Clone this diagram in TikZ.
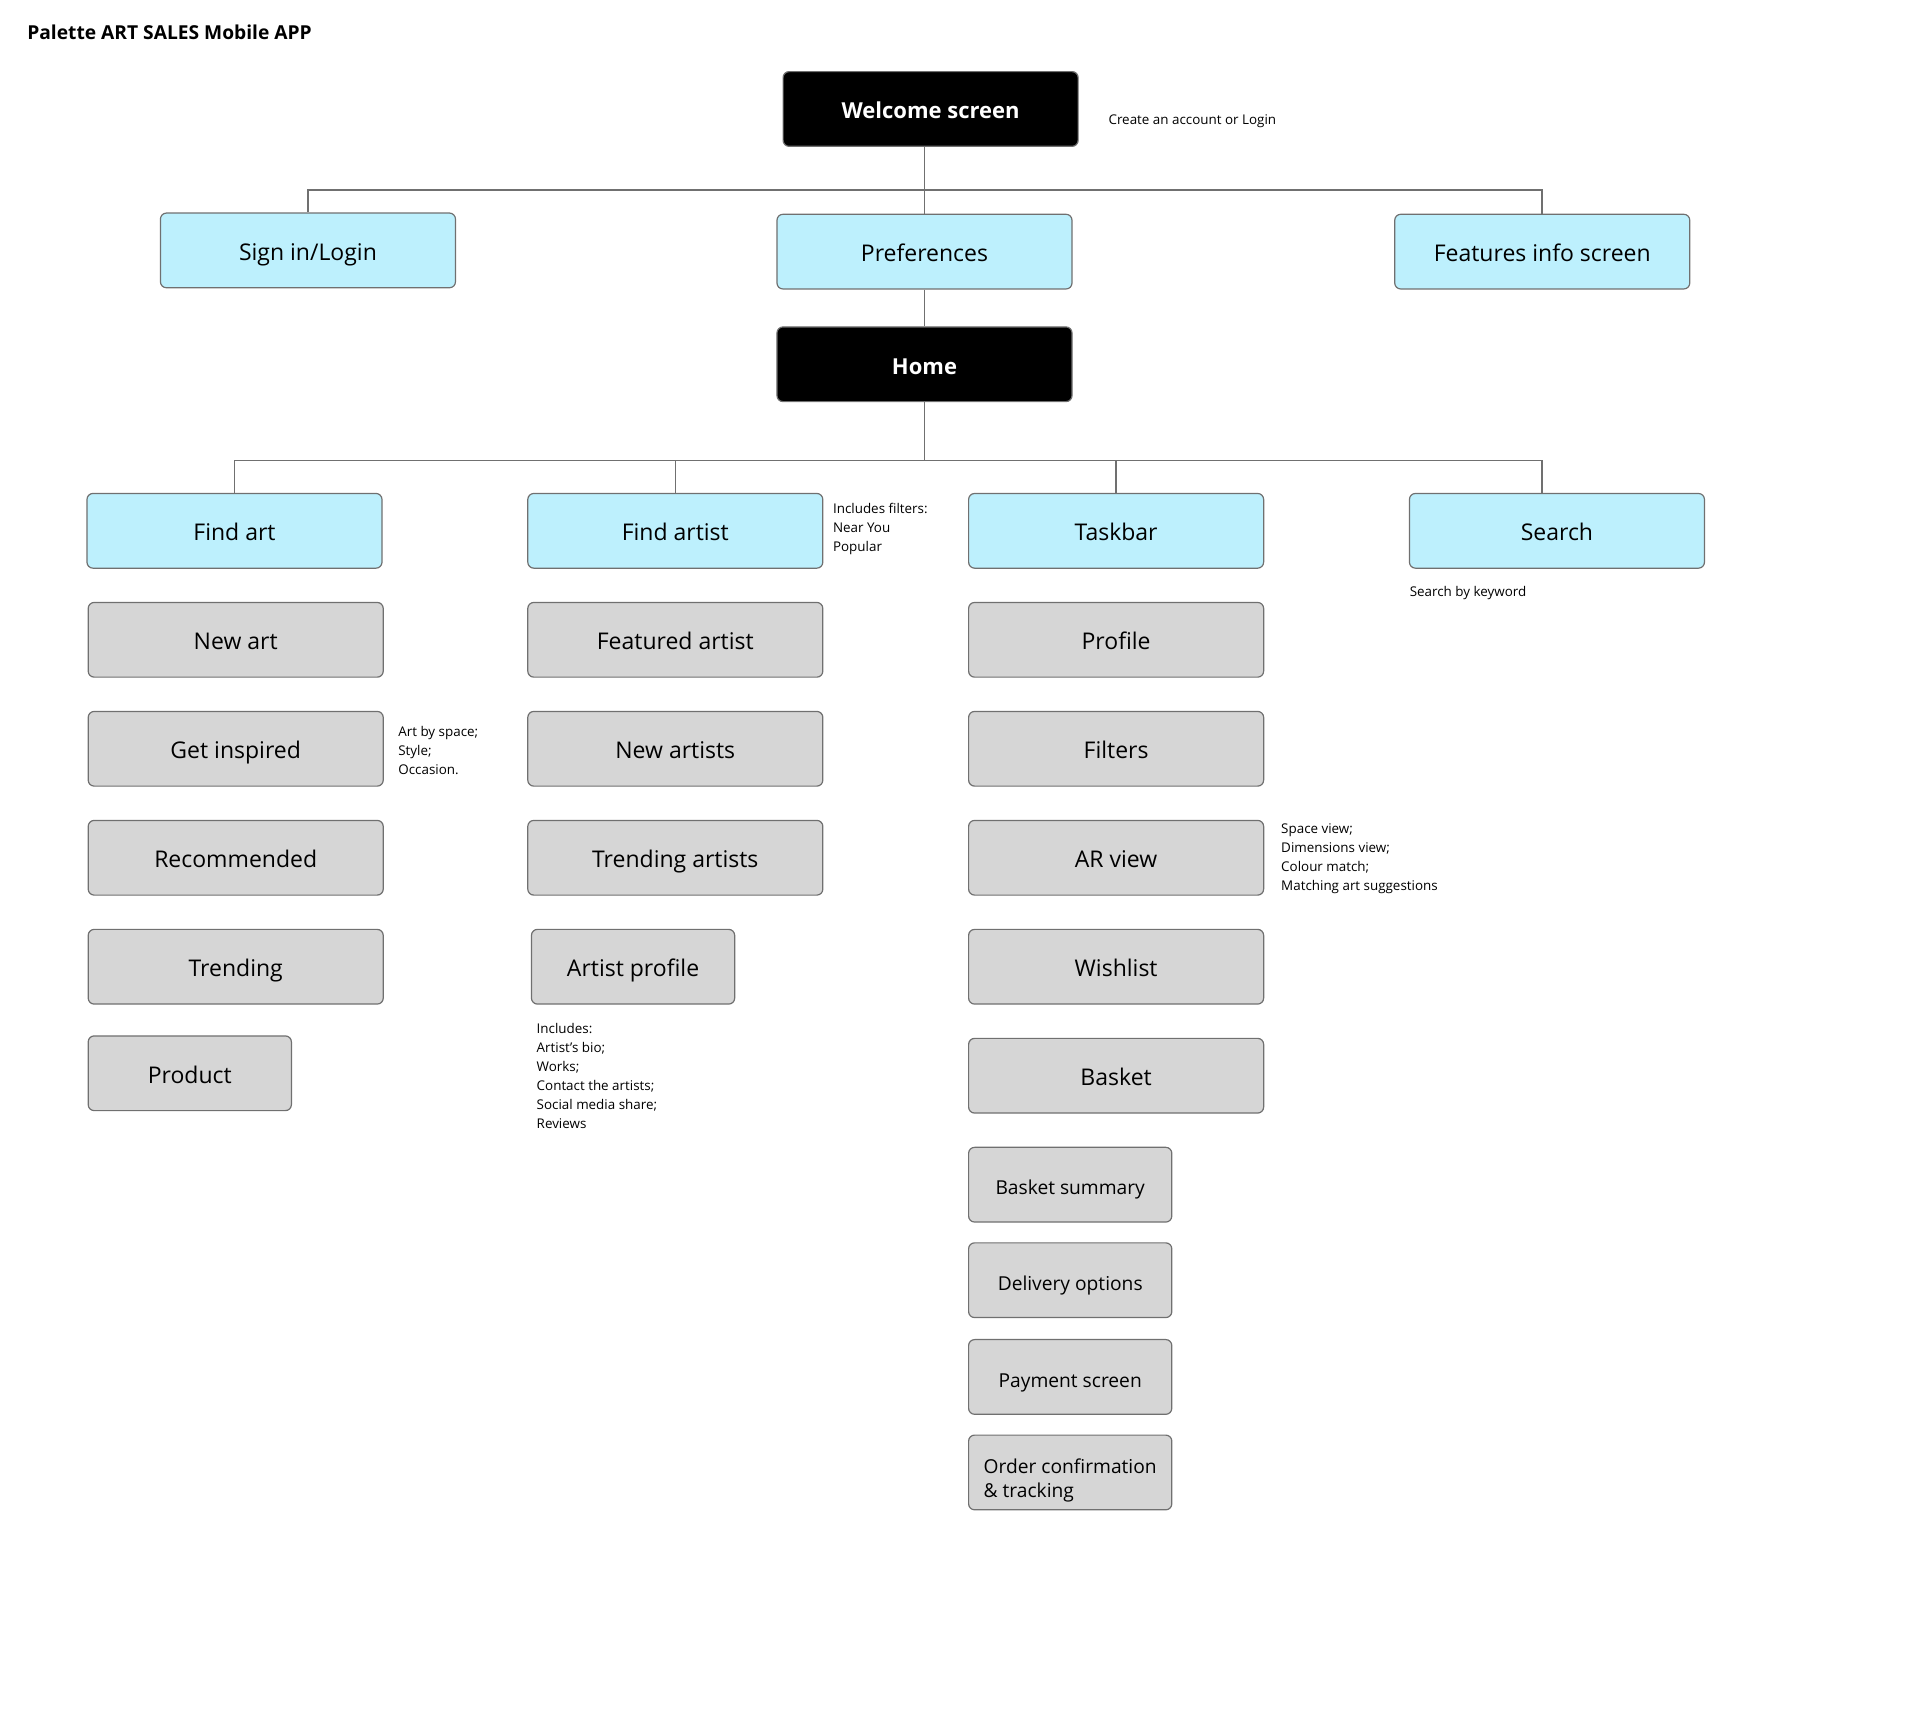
\documentclass[tikz,border=0pt]{standalone}
\usepackage{fontspec}
\setmainfont{Open Sans}
\usetikzlibrary{positioning}
\definecolor{cyanfill}{HTML}{BDF0FD}
\definecolor{greyfill}{HTML}{D6D6D6}
\definecolor{edgegrey}{HTML}{707070}
\tikzset{
	screen/.style={draw=edgegrey, line width=0.6pt, rounded corners=3pt, inner sep=0pt, minimum width=147.5pt, minimum height=37.35pt, text height=12.5pt, text depth=2.7pt, font=\fontsize{11.5}{13}\selectfont},
	mainscreen/.style={screen, fill=black, text=white, font=\bfseries\fontsize{11}{13}\selectfont},
	sectionscreen/.style={screen, fill=cyanfill},
	pagescreen/.style={screen, fill=greyfill},
	smallscreen/.style={pagescreen, minimum width=101.6pt},
	stepscreen/.style={smallscreen, align=left, text height=12.5pt, text depth=2.3pt, font=\fontsize{9.6}{12}\selectfont},
	note/.style={anchor=west, inner sep=0pt, align=left, font=\fontsize{6.7}{9.5}\selectfont},
	link/.style={draw=edgegrey, line width=0.8pt}
}

\begin{document}
\begin{tikzpicture}[x=0.6122pt, y=-0.6122pt]
	\useasboundingbox (0,0) rectangle (1568,1403.9);

	\node[anchor=west, inner sep=0pt, font=\bfseries\fontsize{9.6}{11}\selectfont] (title) at (22,26) {Palette ART SALES Mobile APP};

	\node[mainscreen] (welcome) at (760,89) {Welcome screen};
	\node[note] (welcomenote) at (905,99) {Create an account or Login};

	\node[sectionscreen] (signin) at (251.5,204.5) {Sign in/Login};
	\node[sectionscreen] (prefs) at (755,205.5) {Preferences};
	\node[sectionscreen] (features) at (1259.5,205.5) {Features info screen};
	\node[mainscreen] (home) at (755,297.5) {Home};

	\coordinate (welcomebus) at (755,155);
	\draw[link] (welcome.south -| welcomebus) -- (prefs.north);
	\draw[link] (signin.north) |- (welcomebus) -| (features.north);
	\draw[link] (prefs) -- (home);

	\node[sectionscreen] (findart) at (191.5,433.5) {Find art};
	\node[sectionscreen] (findartist) at (551.5,433.5) {Find artist};
	\node[sectionscreen] (taskbar) at (911.5,433.5) {Taskbar};
	\node[sectionscreen] (search) at (1271.5,433.5) {Search};

	\coordinate (homebus) at (755,376);
	\draw[link] (home.south) -- (homebus);
	\draw[link] (findart.north) |- (homebus) -| (search.north -| features);
	\draw[link] (findartist.north) -- (findartist.north |- homebus);
	\draw[link] (taskbar.north) -- (taskbar.north |- homebus);

	\node[note] (filtersnote) at (680,432) {Includes filters:\\Near You\\Popular};
	\node[note] (searchnote) at (1151,484) {Search by keyword};

	% find art column
	\foreach \y/\name/\txt in {522.5/newart/New art, 611.5/inspired/Get inspired, 700.5/recommended/Recommended, 789.5/trending/Trending}
		\node[pagescreen] (\name) at (192.5,\y) {\txt};
	\node[smallscreen] (product) at (155,876.5) {Product};
	\node[note] (inspirednote) at (325,613) {Art by space;\\Style;\\Occasion.};

	% find artist column
	\foreach \y/\name/\txt in {522.5/featured/Featured artist, 611.5/newartists/New artists, 700.5/trendartists/Trending artists}
		\node[pagescreen] (\name) at (551.5,\y) {\txt};
	\node[smallscreen] (artistprofile) at (517,789.5) {Artist profile};
	\node[note] (profilenote) at (438,879) {Includes:\\Artist's bio;\\Works;\\Contact the artists;\\Social media share;\\Reviews};

	% taskbar column
	\foreach \y/\name/\txt in {522.5/profile/Profile, 611.5/filters/Filters, 700.5/arview/AR view, 789.5/wishlist/Wishlist, 878.5/basket/Basket}
		\node[pagescreen] (\name) at (911.5,\y) {\txt};
	\node[note] (arnote) at (1046,701) {Space view;\\Dimensions view;\\Colour match;\\Matching art suggestions};

	\foreach \y/\name/\txt in {967.5/summary/Basket summary, 1045.5/delivery/Delivery options, 1124.5/payment/Payment screen}
		\node[stepscreen] (\name) at (874,\y) {\txt};
	\node[stepscreen, text height={}, text depth={}] (order) at (874,1202.5) {\rule{0pt}{15pt}Order confirmation\\\& tracking};

\end{tikzpicture}
\end{document}
